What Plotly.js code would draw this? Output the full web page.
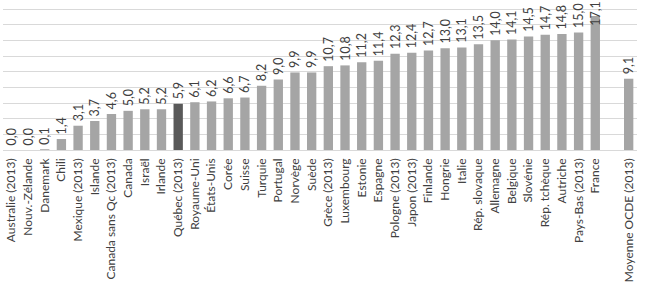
<!DOCTYPE html>
<html>
<head>
<meta charset="utf-8">
<script src="https://cdn.plot.ly/plotly-3.0.1.min.js"></script>
<style>
  html, body { margin: 0; padding: 0; background: #ffffff; }
  #chart { width: 649px; height: 285px; }
</style>
</head>
<body>
<div id="chart"></div>
<script>
// Countries, sorted by value, with their values (%)
const countries = [
  'Australie (2013)', 'Nouv.-Zélande', 'Danemark', 'Chili', 'Mexique (2013)',
  'Islande', 'Canada sans Qc (2013)', 'Canada', 'Israël', 'Irlande',
  'Québec (2013)', 'Royaume-Uni', 'États-Unis', 'Corée', 'Suisse',
  'Turquie', 'Portugal', 'Norvège', 'Suède', 'Grèce (2013)',
  'Luxembourg', 'Estonie', 'Espagne', 'Pologne (2013)', 'Japon (2013)',
  'Finlande', 'Hongrie', 'Italie', 'Rép. slovaque', 'Allemagne',
  'Belgique', 'Slovénie', 'Rép. tchèque', 'Autriche', 'Pays-Bas (2013)',
  'France'
];
const values = [
  0.0, 0.0, 0.1, 1.4, 3.1,
  3.7, 4.6, 5.0, 5.2, 5.2,
  5.9, 6.1, 6.2, 6.6, 6.7,
  8.2, 9.0, 9.9, 9.9, 10.7,
  10.8, 11.2, 11.4, 12.3, 12.4,
  12.7, 13.0, 13.1, 13.5, 14.0,
  14.1, 14.5, 14.7, 14.8, 15.0,
  17.1
];
// OECD average, shown apart after an empty slot
const averageLabel = 'Moyenne OCDE (2013)';
const averageValue = 9.1;
const highlighted = 'Québec (2013)';

const gapLabel = ' ';
const x = countries.concat([gapLabel, averageLabel]);
const y = values.concat([null, averageValue]);
const colors = x.map(c => c === highlighted ? '#595959' : '#a5a5a5');

// French number format: one decimal, comma separator
const fmt = v => v.toFixed(1).replace('.', ',');

// The tallest bar's label has no room above it; it is pinned to the top edge instead
const yMax = 19.15;
const topIndex = y.indexOf(Math.max(...y.filter(v => v !== null)));
const labels = y.map((v, i) => (v === null || i === topIndex) ? '' : '\u2009' + fmt(v));

const family = 'Lato, "Open Sans", sans-serif';
const valueFont = { family: family, size: 12.5, color: '#404040' };
const tickFont = { family: family, size: 12, color: '#404040' };

const trace = {
  type: 'bar',
  x: x,
  y: y,
  text: labels,
  texttemplate: '%{text}',
  marker: { color: colors, line: { width: 0 } },
  textposition: 'outside',
  textangle: -90,
  textfont: valueFont,
  constraintext: 'none',
  cliponaxis: false,
  hoverinfo: 'skip'
};

const layout = {
  width: 649,
  height: 285,
  margin: { l: 3, r: 12, t: 0, b: 135, pad: 0 },
  paper_bgcolor: '#ffffff',
  plot_bgcolor: '#ffffff',
  separators: ', ',
  bargap: 0.44,
  showlegend: false,
  font: tickFont,
  xaxis: {
    type: 'category',
    categoryorder: 'array',
    categoryarray: x,
    range: [-0.5, x.length - 0.5],
    tickangle: -90,
    tickfont: tickFont,
    ticks: '',
    ticklabelstandoff: 5,
    showgrid: false,
    showline: false,
    zeroline: false,
    fixedrange: true
  },
  yaxis: {
    range: [0, yMax],
    dtick: 2,
    showgrid: true,
    gridcolor: '#d9d9d9',
    gridwidth: 1,
    zeroline: true,
    zerolinecolor: '#d9d9d9',
    zerolinewidth: 1,
    showticklabels: false,
    ticks: '',
    fixedrange: true
  },
  annotations: [{
    xref: 'x',
    yref: 'paper',
    x: x[topIndex],
    y: 1,
    xanchor: 'center',
    yanchor: 'top',
    text: fmt(y[topIndex]),
    textangle: -90,
    showarrow: false,
    font: valueFont,
    borderpad: 0
  }]
};

Plotly.newPlot('chart', [trace], layout, { staticPlot: true, displayModeBar: false });
</script>
</body>
</html>
